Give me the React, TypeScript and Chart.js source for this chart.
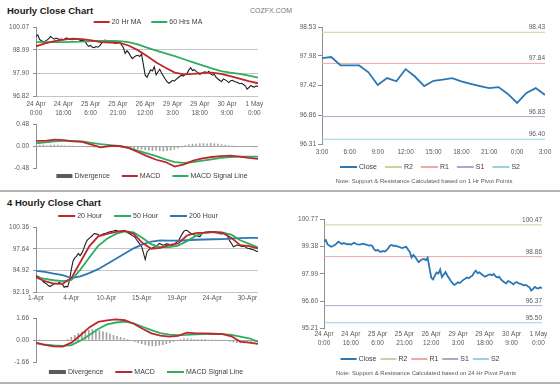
import React, { useEffect, useRef } from 'react';
import { Chart, registerables } from 'chart.js';

Chart.register(...registerables);

const FONT = '"Liberation Sans", Arial, Helvetica, sans-serif';
const W = 560;
const H = 386;

// ---------------- Hourly chart (24 Apr 0:00 – 1 May) ----------------
const hourTickIdx = [0, 15, 30, 45, 60, 75, 90, 105, 120];
const hourTickLabels = [
  ['24 Apr', '0:00'], ['24 Apr', '16:00'], ['25 Apr', '6:00'], ['25 Apr', '21:00'], ['26 Apr', '12:00'],
  ['29 Apr', '3:00'], ['29 Apr', '18:00'], ['30 Apr', '9:00'], ['1 May', '0:00'],
];
const hourClose = [
  99.62, 99.70, 99.48, 99.42, 99.36, 99.40, 99.45, 99.52, 99.62, 99.56,
  99.50, 99.55, 99.52, 99.48, 99.50, 99.46, 99.52, 99.56, 99.50, 99.48,
  99.47, 99.50, 99.52, 99.48, 99.46, 99.42, 99.44, 99.40, 99.24, 99.16,
  99.20, 99.12, 99.10, 99.15, 99.12, 99.18, 99.30, 99.42, 99.45, 99.40,
  99.42, 99.38, 99.36, 99.32, 99.30, 99.34, 99.36, 99.22, 99.10, 98.82,
  98.95, 98.85, 98.70, 98.58, 98.66, 98.72, 98.74, 98.68, 98.80, 98.30,
  97.80, 97.70, 97.88, 98.05, 98.00, 98.20, 97.82, 97.95, 98.08, 97.90,
  97.76, 97.62, 97.50, 97.42, 97.48, 97.56, 97.52, 97.60, 97.68, 97.74,
  97.80, 97.76, 97.84, 97.88, 98.05, 98.15, 98.02, 98.06, 97.98, 97.92,
  97.84, 97.88, 97.94, 97.96, 97.92, 97.98, 97.86, 97.80, 97.84, 97.70,
  97.62, 97.55, 97.50, 97.62, 97.58, 97.52, 97.45, 97.54, 97.56, 97.50,
  97.48, 97.44, 97.40, 97.42, 97.36, 97.30, 97.14, 97.22, 97.32, 97.26,
  97.24, 97.30, 97.26,
];
const hourMA20 = [
  99.16, 99.30, 99.40, 99.48, 99.52, 99.50, 99.44, 99.36, 99.34, 99.32, 99.20, 98.98, 98.70,
  98.40, 98.15, 97.92, 97.84, 97.86, 97.90, 97.92, 97.86, 97.76, 97.64, 97.52, 97.42,
];
const hourMA60 = [
  99.36, 99.36, 99.36, 99.36, 99.37, 99.38, 99.40, 99.41, 99.41, 99.40, 99.36, 99.25, 99.10,
  98.96, 98.83, 98.70, 98.55, 98.40, 98.26, 98.12, 97.99, 97.92, 97.86, 97.78, 97.68,
];
const hourMACD = [
  0.11, 0.11, 0.14, 0.13, 0.10, 0.09, 0.03, -0.03, 0.00, 0.00, -0.04, -0.13, -0.22,
  -0.30, -0.35, -0.45, -0.40, -0.32, -0.27, -0.24, -0.22, -0.21, -0.23, -0.26, -0.28,
];
const hourSignal = [
  0.06, 0.08, 0.10, 0.11, 0.11, 0.10, 0.07, 0.04, 0.02, 0.00, -0.04, -0.10, -0.16,
  -0.22, -0.29, -0.35, -0.37, -0.35, -0.32, -0.29, -0.26, -0.24, -0.23, -0.23, -0.23,
];
const hourDivergence = [
  0.02, 0.02, 0.02, 0.01, 0.02, 0.02, 0.02, 0.01, 0.01, 0.00,
  0.00, -0.01, -0.01, -0.01, -0.02, -0.02, -0.03, -0.03, -0.02, -0.01,
  -0.01, 0.00, 0.00, -0.01, -0.02, -0.03, -0.04, -0.05, -0.06, -0.07,
  -0.08, -0.09, -0.10, -0.09, -0.10, -0.11, -0.10, -0.09, -0.07, -0.04,
  -0.02, 0.01, 0.03, 0.04, 0.04, 0.05, 0.05, 0.05, 0.06, 0.05,
  0.04, 0.03, 0.02, 0.01, 0.00, 0.00, -0.01, -0.01, -0.01, -0.01,
  -0.02, -0.02,
];
const hourPriceTicks = [96.82, 97.9, 98.99, 100.07];
const hourMacdTicks = [-0.48, 0, 0.48];

// ---------------- 4 Hourly chart (1 Apr – 1 May) ----------------
const h4TickIdx = [0, 20, 40, 60, 80, 100, 120];
const h4TickLabels = ['1-Apr', '4-Apr', '10-Apr', '15-Apr', '19-Apr', '24-Apr', '30-Apr'];
const h4Close = [
  94.30, 94.20, 94.10, 93.85, 93.56, 93.40, 93.27, 93.05, 92.94, 93.10,
  93.20, 93.36, 93.30, 93.44, 93.38, 93.23, 92.85, 92.95, 92.90, 93.70,
  95.00, 96.10, 96.50, 96.70, 97.05, 96.80, 97.10, 97.60, 98.20, 98.70,
  98.90, 99.10, 99.30, 99.55, 99.50, 99.45, 99.30, 99.35, 99.50, 99.55,
  99.60, 99.70, 99.75, 99.80, 99.85, 99.95, 99.90, 99.82, 99.85, 99.90,
  99.95, 99.80, 99.65, 99.55, 99.40, 99.25, 99.12, 98.80, 98.50, 98.20,
  97.90, 97.10, 96.30, 97.25, 97.50, 97.68, 97.75, 97.85, 97.90, 98.10,
  98.30, 98.20, 98.10, 98.15, 98.25, 98.22, 98.15, 98.10, 98.08, 98.30,
  98.50, 98.70, 99.10, 99.50, 99.85, 99.95, 99.90, 99.70, 99.55, 99.45,
  99.35, 99.30, 99.20, 99.12, 99.50, 99.65, 99.74, 99.70, 99.78, 99.74,
  99.70, 99.68, 99.65, 99.62, 99.55, 99.50, 99.52, 99.54, 99.40, 99.12,
  98.60, 98.30, 97.90, 98.00, 98.10, 98.08, 98.00, 97.95, 97.98, 97.85,
  97.70, 97.68, 97.60, 97.55, 97.45, 97.35, 97.30,
];
const h4MA20 = [
  94.10, 93.60, 93.30, 93.27, 94.00, 96.00, 97.95, 99.20, 99.50, 99.75, 99.87, 99.50, 98.35,
  97.65, 97.75, 98.12, 98.30, 99.30, 99.60, 99.65, 99.74, 99.65, 99.00, 98.09, 97.97, 97.68,
];
const h4MA50 = [
  94.10, 93.90, 93.72, 93.60, 93.77, 95.05, 96.55, 98.00, 98.90, 99.50, 99.80, 99.70, 99.00,
  98.20, 97.86, 97.85, 98.05, 98.60, 99.25, 99.64, 99.72, 99.65, 99.40, 98.70, 98.25, 97.81,
];
const h4MA200 = [
  94.88, 94.75, 94.55, 94.35, 94.00, 94.20, 94.60, 95.10, 95.75, 96.40, 97.05, 97.70, 98.20,
  98.55, 98.70, 98.65, 98.65, 98.71, 98.77, 98.80, 98.83, 98.86, 98.91, 98.96, 99.00, 99.00,
];
const h4MACD = [
  -0.20, -0.36, -0.48, -0.50, -0.20, 0.36, 0.95, 1.36, 1.48, 1.56, 1.49, 1.23, 0.85,
  0.50, 0.33, 0.26, 0.31, 0.55, 0.50, 0.50, 0.47, 0.44, 0.28, -0.12, -0.20, -0.30,
];
const h4Signal = [
  -0.25, -0.36, -0.41, -0.44, -0.38, -0.05, 0.38, 0.83, 1.18, 1.32, 1.38, 1.25, 1.00,
  0.75, 0.52, 0.40, 0.37, 0.38, 0.43, 0.45, 0.45, 0.44, 0.38, 0.25, 0.13, -0.13,
];
const h4Divergence = [
  0.00, 0.00, -0.05, -0.05, -0.05, -0.05, -0.05, -0.05, -0.03, 0.05,
  0.20, 0.35, 0.50, 0.60, 0.70, 0.75, 0.80, 0.78, 0.72, 0.62,
  0.55, 0.45, 0.35, 0.28, 0.20, 0.12, 0.05, -0.05, -0.12, -0.20,
  -0.28, -0.35, -0.42, -0.45, -0.44, -0.40, -0.35, -0.28, -0.20, -0.12,
  -0.05, 0.05, 0.10, 0.10, 0.08, 0.05, 0.03, 0.02, 0.02, 0.00,
  0.00, 0.00, 0.00, -0.02, -0.05, -0.10, -0.15, -0.20, -0.22, -0.22,
  -0.20, -0.18, -0.15, -0.12,
];
const h4PriceTicks = [92.19, 94.92, 97.64, 100.36];
const h4MacdTicks = [-1.66, 0, 1.66];

// ---------------- 1 Hr pivot chart ----------------
const pivotHourTickIdx = [0, 3, 6, 9, 12, 15, 18, 21, 24];
const pivotHourLabels = ['3:00', '6:00', '9:00', '12:00', '15:00', '18:00', '21:00', '0:00', '3:00'];
const pivotHourClose = [
  97.94, 97.96, 97.80, 97.80, 97.80, 97.67, 97.43, 97.56, 97.50, 97.73, 97.59, 97.41, 97.51,
  97.53, 97.56, 97.50, 97.45, 97.41, 97.37, 97.39, 97.26, 97.09, 97.28, 97.37, 97.24,
];
const pivotNames = ['R2', 'R1', 'S1', 'S2'];
const pivot1hLevels = [98.43, 97.84, 96.83, 96.4];
const pivot1hTicks = [96.31, 96.86, 97.42, 97.98, 98.53];

// ---------------- 24 Hr pivot chart (hourly closes) ----------------
const pivot24hLevels = [100.47, 98.86, 96.37, 95.5];
const pivot24hTicks = [95.21, 96.6, 97.99, 99.38, 100.77];

const NOTE_1H = 'Note: Support & Resistance Calculated based on 1 Hr Pivot Points';
const NOTE_24H = 'Note: Support & Resistance Calculated based on 24 Hr Pivot Points';

// ---------------- colours ----------------
const RED = '#c0272d';
const GREEN = '#2fae62';
const BLUE = '#2b78b8';
const BLACK = '#1e1e1e';
const DIV_BAR = '#a3a3a3';
const DIV_LEG = '#5a5a5a';
const CLOSE_BLUE = '#2a77b5';
const PIVOT_COLORS = ['#c3d69b', '#eba8a6', '#b1a6cc', '#98d0df'];
const TICK_COLOR = '#595959';
const AXIS_COLOR = '#8f8f8f';
const GRID_COLOR = '#c4c4c4';

// ---------------- helpers ----------------
const spread = (vals: number[], last: number) =>
  vals.map((y, k) => ({ x: (k * last) / (vals.length - 1), y }));
const flat = (v: number, last: number) => [{ x: 0, y: v }, { x: last, y: v }];

type Area = { l: number; r: number; t: number; b: number };

function xAxis(last: number, idx: number[], labels: any[], pad: number, lh: number, hx: number) {
  return {
    type: 'linear',
    min: 0,
    max: last,
    offset: false,
    bounds: 'data',
    afterFit: (s: any) => { s.height = hx; s.paddingLeft = 0; s.paddingRight = 0; },
    afterBuildTicks: (s: any) => { s.ticks = idx.map((v) => ({ value: v })); },
    grid: { display: false, drawTicks: false },
    border: { display: false },
    ticks: {
      display: idx.length > 0,
      autoSkip: false, maxRotation: 0, minRotation: 0, padding: pad,
      font: { size: 6.5, family: FONT, lineHeight: lh }, color: TICK_COLOR,
      callback: (_v: any, i: number) => labels[i],
    },
  };
}

function yAxis(ticks: number[], o: { grid: 'all' | 'zero' | 'none'; tl: number; pad: number; wy: number }) {
  const min = ticks[0];
  const max = ticks[ticks.length - 1];
  return {
    type: 'linear',
    min, max,
    bounds: 'data',
    afterFit: (s: any) => { s.width = o.wy; s.paddingTop = 0; s.paddingBottom = 0; },
    afterBuildTicks: (s: any) => { s.ticks = ticks.map((v) => ({ value: v })); },
    grid: {
      display: true,
      drawOnChartArea: o.grid !== 'none',
      color: (c: any) => {
        const v = c.tick ? c.tick.value : null;
        if (o.grid === 'all') return v === max ? 'rgba(0,0,0,0)' : GRID_COLOR;
        if (o.grid === 'zero') return v === 0 ? '#a8a8a8' : 'rgba(0,0,0,0)';
        return 'rgba(0,0,0,0)';
      },
      tickLength: o.tl,
      tickColor: AXIS_COLOR,
    },
    border: { display: true, color: AXIS_COLOR },
    ticks: {
      padding: o.pad, font: { size: 6.5, family: FONT }, color: TICK_COLOR,
      callback: (v: any) => Number(v).toFixed(2),
    },
  };
}

const miniLegend = {
  id: 'miniLegend',
  afterDraw(chart: any, _a: any, opts: any) {
    if (!opts || opts.cx == null) return;
    const ctx = chart.ctx as CanvasRenderingContext2D;
    const items = chart.data.datasets.filter((d: any) => d.inLegend);
    ctx.save();
    ctx.font = `7px ${FONT}`;
    ctx.textBaseline = 'middle';
    ctx.textAlign = 'left';
    const box = opts.box;
    const tg = 2;
    const widths = items.map((d: any) => box + tg + ctx.measureText(d.label).width);
    const total = widths.reduce((a: number, b: number) => a + b, 0) + opts.gap * (items.length - 1);
    let x = opts.cx - total / 2;
    items.forEach((d: any, k: number) => {
      const th = d.legendThick || 2;
      ctx.fillStyle = d.legendColor || d.borderColor;
      ctx.fillRect(x, opts.y - th / 2, box, th);
      ctx.fillStyle = '#404040';
      ctx.fillText(d.label, x + box + tg, opts.y + 0.5);
      x += widths[k] + opts.gap;
    });
    if (opts.note) {
      ctx.font = `6px ${FONT}`;
      ctx.fillStyle = TICK_COLOR;
      ctx.textAlign = 'center';
      ctx.fillText(opts.note, opts.noteCx, opts.noteY);
    }
    ctx.restore();
  },
};

const pivotLabels = {
  id: 'pivotLabels',
  afterDatasetsDraw(chart: any) {
    const ctx = chart.ctx as CanvasRenderingContext2D;
    const area = chart.chartArea;
    ctx.save();
    ctx.font = `6.5px ${FONT}`;
    ctx.fillStyle = TICK_COLOR;
    ctx.textAlign = 'right';
    ctx.textBaseline = 'bottom';
    chart.data.datasets.forEach((d: any, i: number) => {
      if (!d.pivot) return;
      const meta = chart.getDatasetMeta(i);
      const pt = meta.data[meta.data.length - 1];
      const val = d.data[d.data.length - 1].y;
      ctx.fillText(val.toFixed(2), area.right, pt.y - 1.5);
    });
    ctx.restore();
  },
};

function baseConfig(area: Area, wy: number, hx: number, datasets: any[], scales: any, legend: any) {
  return {
    type: 'line',
    data: { datasets },
    options: {
      responsive: false,
      animation: false,
      devicePixelRatio: 1,
      layout: { padding: { left: area.l - wy, right: W - area.r, top: area.t, bottom: H - area.b - hx } },
      elements: { point: { radius: 0, hoverRadius: 0 }, line: { tension: 0 } },
      plugins: { legend: { display: false }, tooltip: { enabled: false }, miniLegend: legend },
      scales,
    },
    plugins: [miniLegend, pivotLabels],
  };
}

const line = (label: string, data: any[], color: string, width: number, inLegend = true, order = 1) => ({
  type: 'line', label, data, borderColor: color, backgroundColor: color, borderWidth: width,
  pointRadius: 0, fill: false, inLegend, order,
});

const divBars = (data: any[]) => ({
  type: 'bar', label: 'Divergence', data, backgroundColor: DIV_BAR, borderWidth: 0,
  barThickness: 1, inLegend: true, legendColor: DIV_LEG, legendThick: 4, order: 5,
});

// ---------------- chart configs ----------------
function hourlyPrice() {
  const last = hourClose.length - 1;
  return baseConfig(
    { l: 36, r: 258, t: 27, b: 96 }, 34, 22,
    [
      line('20 Hr MA', spread(hourMA20, last), RED, 1.8, true, 1),
      line('60 Hrs MA', spread(hourMA60, last), GREEN, 1.8, true, 2),
      line('Close', spread(hourClose, last), BLACK, 1.1, false, 3),
    ],
    { x: xAxis(last, hourTickIdx, hourTickLabels, 3.5, 1.45, 22), y: yAxis(hourPriceTicks, { grid: 'all', tl: 3, pad: 4, wy: 34 }) },
    { cx: 148, y: 22, gap: 10, box: 16 },
  );
}

function hourlyMacd() {
  const last = hourClose.length - 1;
  return baseConfig(
    { l: 36, r: 258, t: 124, b: 168 }, 34, 0,
    [
      divBars(spread(hourDivergence, last)),
      line('MACD', spread(hourMACD, last), RED, 1.8, true, 1),
      line('MACD Signal Line', spread(hourSignal, last), GREEN, 1.8, true, 2),
    ],
    { x: xAxis(last, [], [], 0, 1.2, 0), y: yAxis(hourMacdTicks, { grid: 'zero', tl: 3, pad: 4, wy: 34 }) },
    { cx: 152, y: 176, gap: 12, box: 16 },
  );
}

function pivotDatasets(close: number[], levels: number[], last: number) {
  return [
    { ...line('Close', spread(close, last), CLOSE_BLUE, 1.8, true, 0) },
    ...levels.map((v, k) => ({ ...line(pivotNames[k], flat(v, last), PIVOT_COLORS[k], 1, true, 1), pivot: true })),
  ];
}

function pivotHour() {
  const last = pivotHourClose.length - 1;
  return baseConfig(
    { l: 322, r: 545, t: 27, b: 144 }, 40, 14,
    pivotDatasets(pivotHourClose, pivot1hLevels, last),
    { x: xAxis(last, pivotHourTickIdx, pivotHourLabels, 4.6, 1.2, 14), y: yAxis(pivot1hTicks, { grid: 'none', tl: 4, pad: 2, wy: 40 }) },
    { cx: 430, y: 167, gap: 8, box: 17, note: NOTE_1H, noteCx: 424, noteY: 181 },
  );
}

function fourHourPrice() {
  const last = h4Close.length - 1;
  return baseConfig(
    { l: 36, r: 258, t: 227, b: 292.5 }, 34, 12,
    [
      line('20 Hour', spread(h4MA20, last), RED, 1.8, true, 1),
      line('50 Hour', spread(h4MA50, last), GREEN, 1.8, true, 2),
      line('200 Hour', spread(h4MA200, last), BLUE, 1.8, true, 3),
      line('Close', spread(h4Close, last), BLACK, 1.1, false, 4),
    ],
    { x: xAxis(last, h4TickIdx, h4TickLabels, 2.2, 1.2, 12), y: yAxis(h4PriceTicks, { grid: 'all', tl: 3, pad: 4, wy: 34 }) },
    { cx: 138, y: 216, gap: 12, box: 17 },
  );
}

function fourHourMacd() {
  const last = h4Close.length - 1;
  return baseConfig(
    { l: 36, r: 258, t: 318, b: 362 }, 34, 0,
    [
      divBars(spread(h4Divergence, last)),
      line('MACD', spread(h4MACD, last), RED, 1.8, true, 1),
      line('MACD Signal Line', spread(h4Signal, last), GREEN, 1.8, true, 2),
    ],
    { x: xAxis(last, [], [], 0, 1.2, 0), y: yAxis(h4MacdTicks, { grid: 'zero', tl: 3, pad: 4, wy: 34 }) },
    { cx: 146, y: 372, gap: 12, box: 17 },
  );
}

function pivotDay() {
  const last = hourClose.length - 1;
  return baseConfig(
    { l: 324, r: 542, t: 219, b: 328.5 }, 40, 20,
    pivotDatasets(hourClose, pivot24hLevels, last),
    { x: xAxis(last, hourTickIdx, hourTickLabels, 0.5, 1.45, 20), y: yAxis(pivot24hTicks, { grid: 'none', tl: 4, pad: 2, wy: 40 }) },
    { cx: 420, y: 359, gap: 4, box: 16, note: NOTE_24H, noteCx: 426, noteY: 373.5 },
  );
}

function ChartLayer({ make }: { make: () => any }) {
  const ref = useRef<HTMLCanvasElement>(null);
  useEffect(() => {
    const chart = new Chart(ref.current as HTMLCanvasElement, make() as any);
    return () => chart.destroy();
  }, [make]);
  return (
    <canvas
      ref={ref}
      width={W}
      height={H}
      style={{ position: 'absolute', left: 0, top: 0, width: W, height: H }}
    />
  );
}

const titleStyle: React.CSSProperties = {
  position: 'absolute', left: 7, fontFamily: FONT, fontWeight: 'bold', fontSize: 9.5,
  lineHeight: '10px', color: '#1a1a1a', whiteSpace: 'nowrap',
};

export default function App() {
  return (
    <div style={{ position: 'fixed', left: 0, top: 0, width: W, height: H, background: '#ffffff', overflow: 'hidden' }}>
      <div style={{ ...titleStyle, top: 6 }}>Hourly Close Chart</div>
      <div style={{ position: 'absolute', left: 250, top: 7, fontFamily: FONT, fontSize: 7, lineHeight: '8px', color: '#7a7a7a', whiteSpace: 'nowrap' }}>COZFX.COM</div>
      <div style={{ ...titleStyle, top: 198 }}>4 Hourly Close Chart</div>
      <div style={{ position: 'absolute', left: 0, top: 190, width: W, height: 2, background: '#b3b3b3' }} />
      <div style={{ position: 'absolute', left: 0, top: 382, width: W, height: 2, background: '#b3b3b3' }} />
      <ChartLayer make={hourlyPrice} />
      <ChartLayer make={hourlyMacd} />
      <ChartLayer make={pivotHour} />
      <ChartLayer make={fourHourPrice} />
      <ChartLayer make={fourHourMacd} />
      <ChartLayer make={pivotDay} />
    </div>
  );
}
